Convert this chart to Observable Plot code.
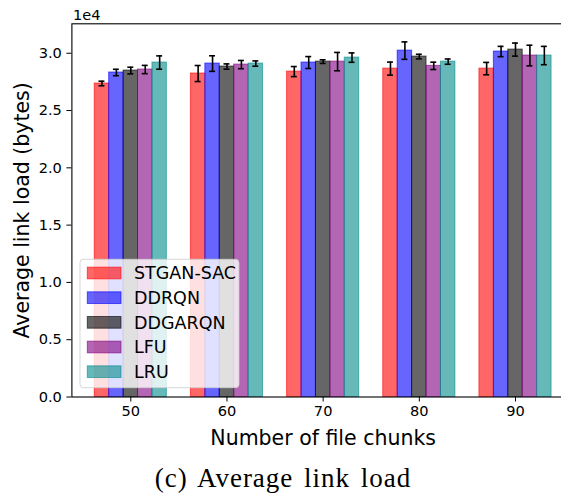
<!DOCTYPE html>
<html>
<head>
<meta charset="utf-8">
<script src="https://cdn.jsdelivr.net/npm/d3@7"></script>
<script src="https://cdn.jsdelivr.net/npm/@observablehq/plot@0.6"></script>
<style>
  html, body { margin: 0; padding: 0; background: white; }
  #caption { width: 561px; text-align: center; font-family: "Liberation Serif", serif; font-size: 27px; line-height: 40px; padding-top: 3px; letter-spacing: 1px; word-spacing: 3px; color: black; padding-left: 5px; box-sizing: border-box; }
</style>
</head>
<body>
<div id="chart"></div>
<div id="caption">(c) Average link load</div>
<script>
const chunks = [50, 60, 70, 80, 90];
const seriesNames = ["STGAN-SAC", "DDRQN", "DDGARQN", "LFU", "LRU"];
const seriesColors = ["red", "blue", "black", "purple", "darkcyan"];
const stganSac = [27360, 28230, 28400, 28660, 28660];
const ddrqn    = [28320, 29100, 29190, 30230, 30150];
const ddgarqn  = [28490, 28840, 29270, 29710, 30320];
const lfu      = [28580, 29010, 29270, 28900, 29800];
const lru      = [29190, 29100, 29620, 29270, 29800];
const stganSacErr = [200, 700, 440, 570, 540];
const ddrqnErr    = [280, 680, 520, 760, 450];
const ddgarqnErr  = [290, 230, 160, 200, 570];
const lfuErr      = [360, 360, 800, 320, 900];
const lruErr      = [580, 230, 410, 230, 800];
const yTicks = [0, 5000, 10000, 15000, 20000, 25000, 30000];

const means = [stganSac, ddrqn, ddgarqn, lfu, lru];
const errs = [stganSacErr, ddrqnErr, ddgarqnErr, lfuErr, lruErr];
const barW = 1.5; // in chunk units (group spacing 10)
const rows = [];
seriesNames.forEach((s, k) => {
  chunks.forEach((c, i) => {
    const xc = c + (k - 2) * barW;
    rows.push({series: s, color: seriesColors[k], chunk: c, xc,
      x1: xc - barW / 2, x2: xc + barW / 2,
      value: means[k][i], lo: means[k][i] - errs[k][i], hi: means[k][i] + errs[k][i]});
  });
});
const capHalf = 0.31;

const W = 561, H = 455;
const plot = Plot.plot({
  width: W, height: H,
  marginLeft: 71.4, marginRight: -12.9, marginTop: 23.3, marginBottom: 58.5,
  style: {fontFamily: "DejaVu Sans", fontSize: "14.6px", color: "black", background: "white"},
  x: {type: "linear", domain: [43.875, 96.125]},
  y: {domain: [0, 32570]},
  marks: [
    Plot.rect(rows, {x1: "x1", x2: "x2", y1: 0, y2: "value", fill: "color", fillOpacity: 0.6, stroke: "color", strokeOpacity: 0.6, strokeWidth: 1}),
    Plot.ruleX(rows, {x: "xc", y1: "lo", y2: "hi", stroke: "black", strokeWidth: 1.6}),
    Plot.ruleY(rows, {y: "lo", x1: d => d.xc - capHalf, x2: d => d.xc + capHalf, stroke: "black", strokeWidth: 1.6}),
    Plot.ruleY(rows, {y: "hi", x1: d => d.xc - capHalf, x2: d => d.xc + capHalf, stroke: "black", strokeWidth: 1.6}),
    Plot.frame({stroke: "black", strokeWidth: 1.1}),
    Plot.axisX({ticks: chunks, tickFormat: d => String(d), tickSize: 5, tickPadding: 4, label: null, fontSize: 14.6}),
    Plot.axisY({ticks: yTicks, tickFormat: d => (d / 1e4).toFixed(1), tickSize: 5, tickPadding: 5, label: null, fontSize: 14.6}),
    Plot.text(["Number of file chunks"], {text: d => d, frameAnchor: "bottom", dy: 41.9, fontSize: 20.5, lineAnchor: "middle"}),
    Plot.text(["Average link load (bytes)"], {text: d => d, frameAnchor: "left", textAnchor: "middle", dx: -49, rotate: -90, fontSize: 20.5, lineAnchor: "middle"}),
    Plot.text(["1e4"], {text: d => d, frameAnchor: "top-left", textAnchor: "start", dy: -8, dx: 1, fontSize: 14.6, lineAnchor: "middle"})
  ]
});
document.getElementById("chart").appendChild(plot);

// legend overlay (matplotlib style, lower left inside axes)
const svg = d3.select(plot);
const lg = svg.append("g").attr("font-family", "DejaVu Sans").attr("font-size", "17.5px").attr("text-anchor", "start");
lg.append("rect").attr("x", 80).attr("y", 259.3).attr("width", 159).attr("height", 128.4)
  .attr("rx", 3.5).attr("fill", "white").attr("fill-opacity", 0.8)
  .attr("stroke", "#cccccc").attr("stroke-opacity", 0.8).attr("stroke-width", 1);
seriesNames.forEach((s, k) => {
  const cy = 273 + k * 24.67;
  lg.append("rect").attr("x", 87.3).attr("y", cy - 5.85).attr("width", 33.7).attr("height", 11.7)
    .attr("fill", seriesColors[k]).attr("fill-opacity", 0.6)
    .attr("stroke", seriesColors[k]).attr("stroke-opacity", 0.6);
  lg.append("text").attr("x", 134).attr("y", cy).attr("dy", "0.36em").attr("fill", "black").attr("text-anchor", "start").text(s);
});
</script>
</body>
</html>
